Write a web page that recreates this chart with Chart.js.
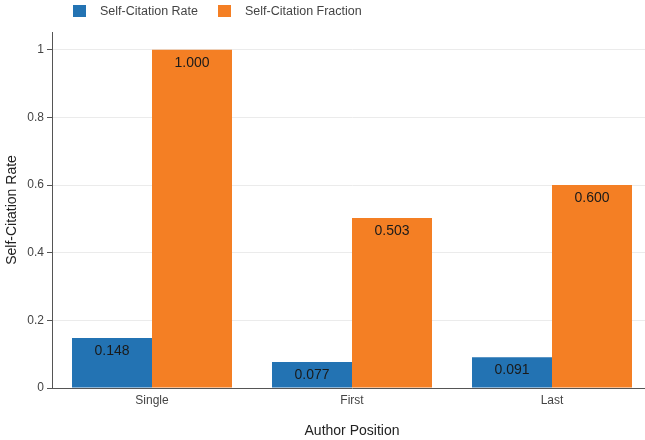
<!DOCTYPE html>
<html>
<head>
<meta charset="utf-8">
<script src="https://cdn.jsdelivr.net/npm/chart.js@4.4.0/dist/chart.umd.min.js"></script>
<style>
html,body{margin:0;padding:0;background:#fff;overflow:hidden;width:645px;height:440px;}
#wrap{position:absolute;left:0;top:0;width:655px;height:440px;}
</style>
</head>
<body>
<div id="wrap"><canvas id="c" width="655" height="440"></canvas></div>
<script>
const categories = ['Single', 'First', 'Last'];
const selfCitationRate = [0.148, 0.077, 0.091];
const selfCitationFraction = [1.000, 0.503, 0.600];
const seriesNames = ['Self-Citation Rate', 'Self-Citation Fraction'];
const yTickValues = [0, 0.2, 0.4, 0.6, 0.8, 1];

const FONT = "'Liberation Sans', Arial, sans-serif";
const BLUE = '#2373b3';
const ORANGE = '#f47f24';

const legendPlugin = {
  id: 'customLegend',
  afterDraw(chart) {
    const ctx = chart.ctx;
    ctx.save();
    const items = [
      {x: 73, color: BLUE, text: seriesNames[0]},
      {x: 218, color: ORANGE, text: seriesNames[1]}
    ];
    ctx.font = '12.5px ' + FONT;
    ctx.textBaseline = 'middle';
    ctx.textAlign = 'left';
    items.forEach(it => {
      ctx.fillStyle = it.color;
      ctx.fillRect(it.x, 5, 13, 12);
      ctx.fillStyle = '#444';
      ctx.fillText(it.text, it.x + 27, 12);
    });
    ctx.restore();
  }
};

const valueLabelPlugin = {
  id: 'valueLabels',
  afterDatasetsDraw(chart) {
    const ctx = chart.ctx;
    ctx.save();
    ctx.font = '14px ' + FONT;
    ctx.fillStyle = '#1a1a1a';
    ctx.textAlign = 'center';
    ctx.textBaseline = 'middle';
    chart.data.datasets.forEach((ds, di) => {
      const meta = chart.getDatasetMeta(di);
      meta.data.forEach((bar, i) => {
        ctx.fillText(ds.data[i].toFixed(3), bar.x, bar.y + 13);
      });
    });
    ctx.restore();
  }
};

new Chart(document.getElementById('c'), {
  type: 'bar',
  data: {
    labels: categories,
    datasets: [
      {label: seriesNames[0], data: selfCitationRate, backgroundColor: BLUE, borderWidth: 0},
      {label: seriesNames[1], data: selfCitationFraction, backgroundColor: ORANGE, borderWidth: 0}
    ]
  },
  options: {
    responsive: false,
    animation: false,
    layout: {padding: {top: 32, right: 3, left: 0, bottom: 0}},
    datasets: {bar: {categoryPercentage: 0.8, barPercentage: 1.0}},
    plugins: {legend: {display: false}, tooltip: {enabled: false}},
    scales: {
      x: {
        grid: {display: false, drawTicks: false},
        border: {display: true, color: '#555', width: 1},
        ticks: {color: '#444', font: {family: FONT, size: 12}, padding: 5},
        title: {display: true, text: 'Author Position', color: '#222', font: {family: FONT, size: 14}, padding: {top: 0, bottom: 0}},
        afterFit(s) { s.height = 52; }
      },
      y: {
        min: 0,
        max: 1.0526,
        grid: {color: '#ebebeb', tickColor: '#555', tickLength: 5, drawTicks: true},
        border: {display: true, color: '#555', width: 1},
        afterBuildTicks(s) { s.ticks = yTickValues.map(v => ({value: v})); },
        ticks: {
          color: '#444', font: {family: FONT, size: 12}, padding: 3,
          callback: v => String(Math.round(v * 10) / 10)
        },
        title: {display: true, text: 'Self-Citation Rate', color: '#222', font: {family: FONT, size: 14}, padding: {top: 4, bottom: 0}},
        afterFit(s) { s.width = 52; }
      }
    }
  },
  plugins: [legendPlugin, valueLabelPlugin]
});
</script>
</body>
</html>
